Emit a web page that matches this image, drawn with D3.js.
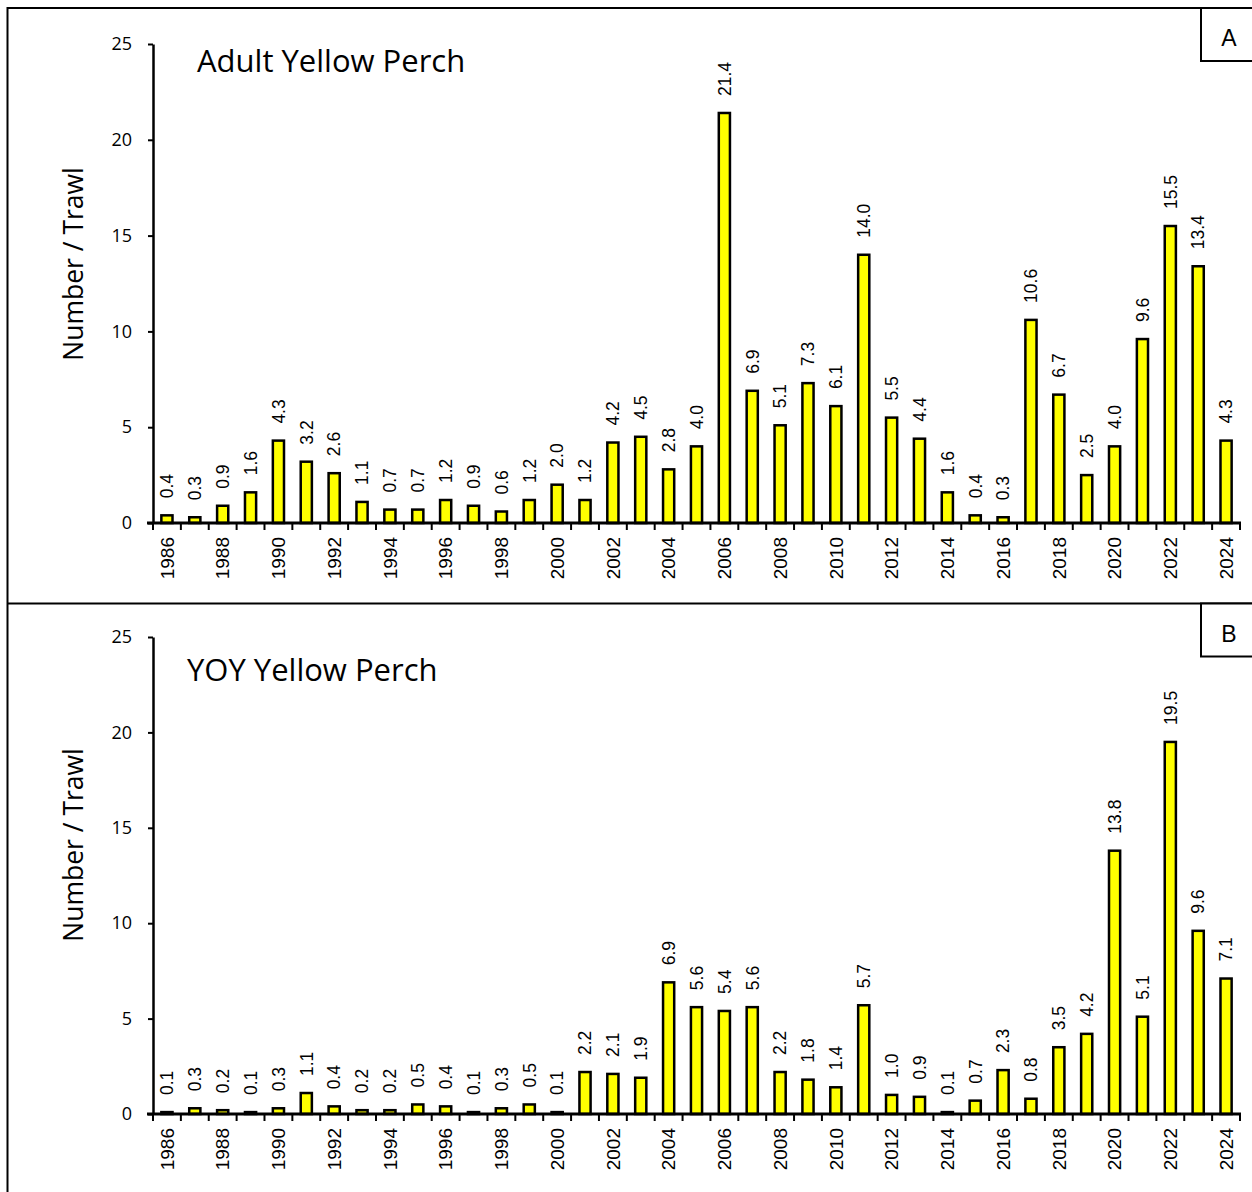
<!DOCTYPE html>
<html>
<head>
<meta charset="utf-8">
<script src="https://cdn.jsdelivr.net/npm/d3@7"></script>
<style>
  html, body { margin: 0; padding: 0; background: #fff; }
  svg { display: block; }
</style>
</head>
<body>
<svg id="chart" width="1252" height="1192"></svg>
<script>
// Survey years
const years = d3.range(1986, 2025);

// Mean catch per trawl, adult yellow perch
const adultValues = [0.4, 0.3, 0.9, 1.6, 4.3, 3.2, 2.6, 1.1, 0.7, 0.7, 1.2, 0.9, 0.6, 1.2, 2.0, 1.2,
  4.2, 4.5, 2.8, 4.0, 21.4, 6.9, 5.1, 7.3, 6.1, 14.0, 5.5, 4.4, 1.6, 0.4, 0.3, 10.6, 6.7, 2.5,
  4.0, 9.6, 15.5, 13.4, 4.3];

// Mean catch per trawl, young-of-year yellow perch
const yoyValues = [0.1, 0.3, 0.2, 0.1, 0.3, 1.1, 0.4, 0.2, 0.2, 0.5, 0.4, 0.1, 0.3, 0.5, 0.1, 2.2,
  2.1, 1.9, 6.9, 5.6, 5.4, 5.6, 2.2, 1.8, 1.4, 5.7, 1.0, 0.9, 0.1, 0.7, 2.3, 0.8, 3.5, 4.2,
  13.8, 5.1, 19.5, 9.6, 7.1];

const yTicks = [0, 5, 10, 15, 20, 25];
const panelTitles = ["Adult Yellow Perch", "YOY Yellow Perch"];
const panelTags = ["A", "B"];
const yAxisTitle = "Number / Trawl";

const svg = d3.select("#chart");
const W = 1252, H = 1192;

// Frame and panel divider
svg.append("rect").attr("x", 7.5).attr("y", 8).attr("width", W + 10).attr("height", H + 10)
  .attr("fill", "none").attr("stroke", "#000").attr("stroke-width", 2);
svg.append("line").attr("x1", 7.5).attr("x2", W).attr("y1", 603.5).attr("y2", 603.5)
  .attr("stroke", "#000").attr("stroke-width", 2);

const panels = [
  { values: adultValues, top: 44, bottom: 523, frameTop: 8, titleX: 197, titleY: 72, axisTitleY: 264 },
  { values: yoyValues, top: 637, bottom: 1114, frameTop: 603.5, titleX: 187, titleY: 681, axisTitleY: 845 }
];

const x = d3.scaleBand().domain(years).range([153, 1240]).paddingInner(0.6).paddingOuter(0.3);

panels.forEach((p, k) => {
  const g = svg.append("g");
  const y = d3.scaleLinear().domain([0, 25]).range([p.bottom, p.top]);

  // Bars
  g.selectAll("rect.bar").data(p.values).join("rect")
    .attr("class", "bar")
    .attr("x", (d, i) => x(years[i]))
    .attr("width", x.bandwidth())
    .attr("y", d => y(d))
    .attr("height", d => y(0) - y(d))
    .attr("fill", "#ffff00")
    .attr("stroke", "#000")
    .attr("stroke-width", 2.5);

  // Value labels above bars
  g.selectAll("text.val").data(p.values).join("text")
    .attr("class", "val")
    .attr("transform", (d, i) => `translate(${x(years[i]) + x.bandwidth() / 2 + 6.3},${y(d) - 17}) rotate(-90)`)
    .attr("text-anchor", "start")
    .attr("font-family", "'Liberation Sans', Arial, sans-serif")
    .attr("font-size", 17.5)
    .attr("fill", "#000")
    .text(d => d.toFixed(1));

  // Y axis
  const yAxis = d3.axisLeft(y).tickValues(yTicks).tickSize(5).tickSizeOuter(0).tickPadding(16);
  const ya = g.append("g").attr("transform", "translate(153,0)").call(yAxis);
  ya.select(".domain").attr("stroke-width", 2.5);
  ya.selectAll(".tick line").attr("stroke-width", 2);
  ya.selectAll("text").attr("font-family", "'Open Sans', sans-serif").attr("font-size", 18).attr("fill", "#000");

  // X axis baseline with category separators
  g.append("line").attr("x1", 147).attr("x2", 1241).attr("y1", y(0)).attr("y2", y(0))
    .attr("stroke", "#000").attr("stroke-width", 3);
  const bounds = d3.range(years.length + 1).map(i => 153 + i * x.step());
  g.selectAll("line.sep").data(bounds).join("line")
    .attr("class", "sep")
    .attr("x1", d => d).attr("x2", d => d)
    .attr("y1", y(0)).attr("y2", y(0) + 7)
    .attr("stroke", "#000").attr("stroke-width", 2);

  // Year labels (every second year)
  g.selectAll("text.yr").data(years.filter(v => v % 2 === 0)).join("text")
    .attr("class", "yr")
    .attr("transform", d => `translate(${x(d) + x.bandwidth() / 2 + 6.8},${y(0) + 14}) rotate(-90)`)
    .attr("text-anchor", "end")
    .attr("font-family", "'Liberation Sans', Arial, sans-serif")
    .attr("font-size", 19)
    .attr("fill", "#000")
    .text(d => d);

  // Axis title
  g.append("text")
    .attr("transform", `translate(83,${p.axisTitleY}) rotate(-90)`)
    .attr("text-anchor", "middle")
    .attr("font-family", "'Open Sans', sans-serif")
    .attr("font-size", 26.5)
    .attr("fill", "#000")
    .text(yAxisTitle);

  // Panel title
  g.append("text")
    .attr("x", p.titleX).attr("y", p.titleY)
    .attr("font-family", "'Open Sans', sans-serif")
    .attr("font-size", 31)
    .attr("fill", "#000")
    .text(panelTitles[k]);

  // Panel tag box
  g.append("rect").attr("x", 1201).attr("y", p.frameTop).attr("width", 60).attr("height", 53)
    .attr("fill", "#fff").attr("stroke", "#000").attr("stroke-width", 2);
  g.append("text").attr("x", 1229).attr("y", p.frameTop + 38)
    .attr("text-anchor", "middle")
    .attr("font-family", "'Liberation Sans', Arial, sans-serif")
    .attr("font-size", 23)
    .attr("fill", "#000")
    .text(panelTags[k]);
});
</script>
</body>
</html>
